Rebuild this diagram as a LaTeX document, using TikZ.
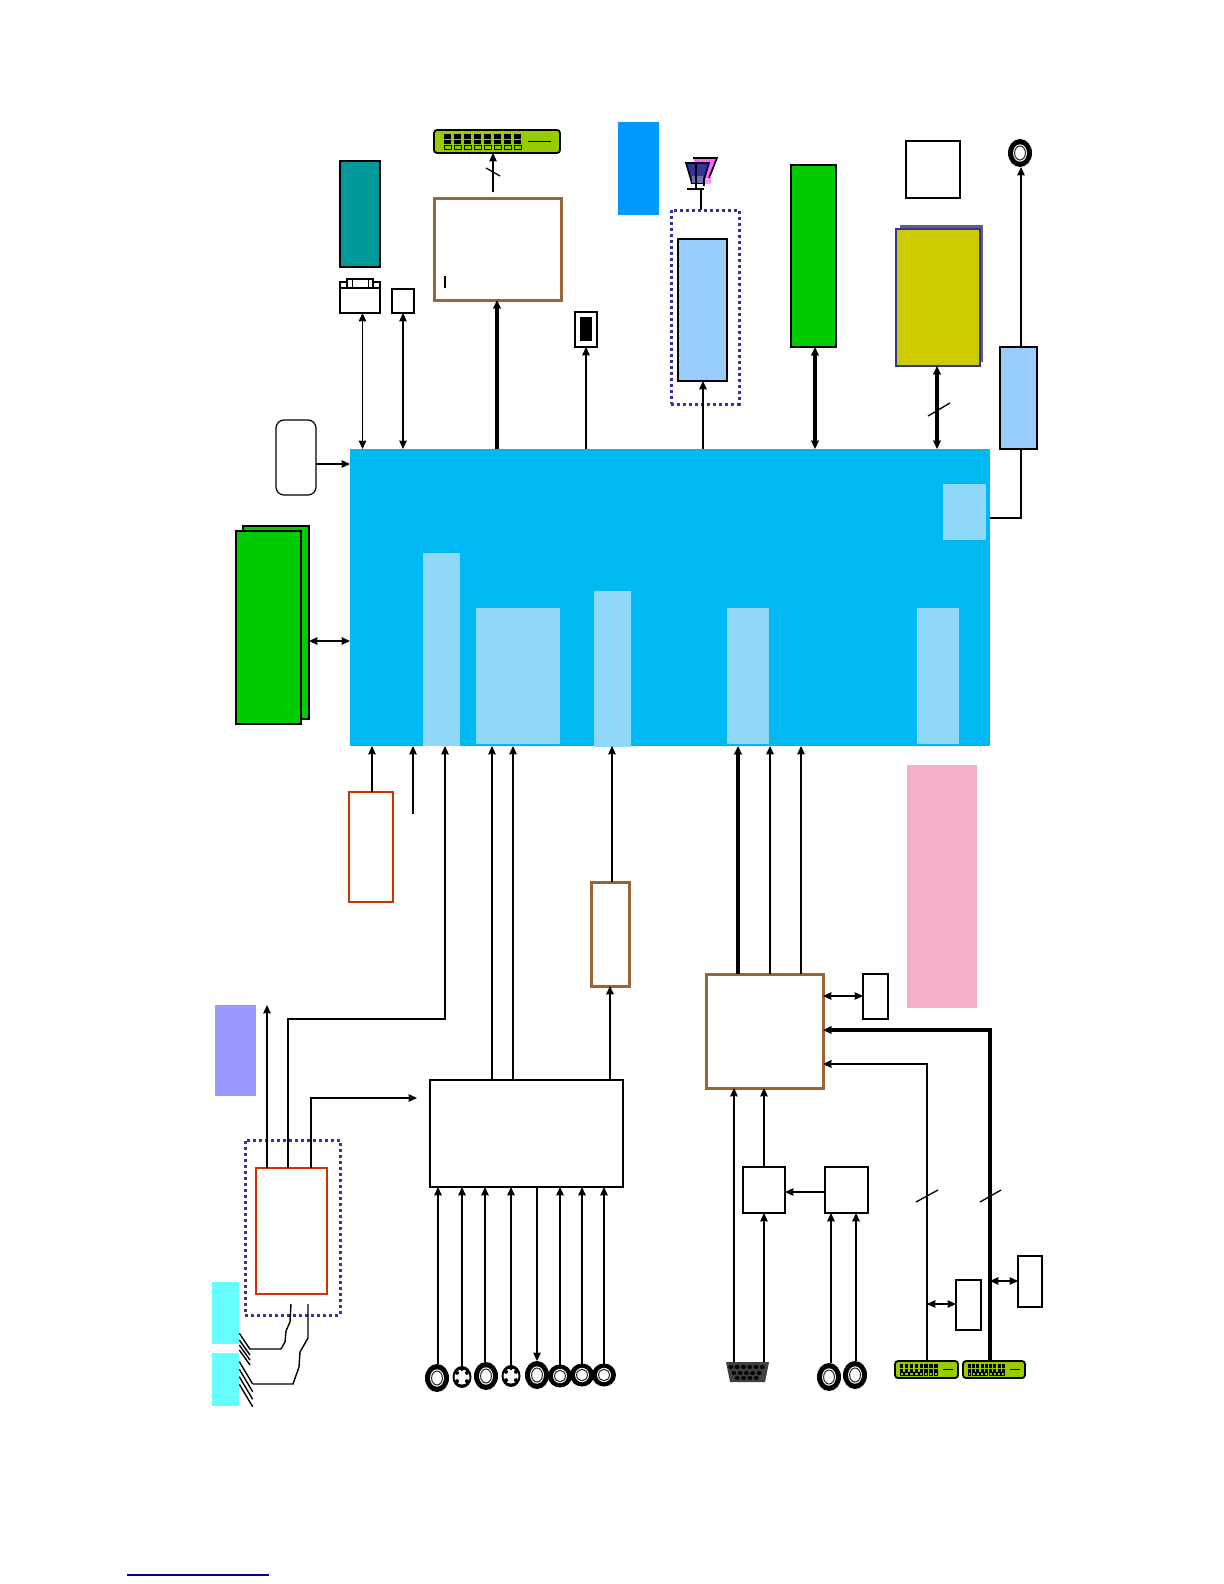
\documentclass[tikz,border=0pt]{standalone}
\usetikzlibrary{arrows.meta,shapes.geometric,calc}
\definecolor{mainblue}{HTML}{00B9F2}
\definecolor{lightblue}{HTML}{8FD8F8}
\definecolor{brgreen}{HTML}{00CC00}
\definecolor{teal2}{HTML}{009999}
\definecolor{brownb}{HTML}{996633}
\definecolor{redb}{HTML}{CC3300}
\definecolor{navy2}{HTML}{333399}
\definecolor{pale}{HTML}{99CCFF}
\definecolor{skyb}{HTML}{0099FF}
\definecolor{olive2}{HTML}{CCCC00}
\definecolor{lime2}{HTML}{99CC00}
\definecolor{pink2}{HTML}{F7AECB}
\definecolor{lilac}{HTML}{9999FF}
\definecolor{cyan2}{HTML}{66FFFF}
\definecolor{magenta2}{HTML}{FF66FF}
\definecolor{linkblue}{HTML}{000080}
\newcommand{\bx}[6][]{%
  \pgfmathsetmacro{\bxw}{(#5-#3)*0.5}\pgfmathsetmacro{\bxh}{(#6-#4)*0.5}%
  \pgfmathsetmacro{\bxcx}{(#3+#5)/2}\pgfmathsetmacro{\bxcy}{(#4+#6)/2}%
  \node[shape=rectangle,inner sep=0pt,outer sep=0pt,minimum width=\bxw pt,minimum height=\bxh pt,#1] (#2) at (\bxcx,\bxcy) {};}
\newcommand{\rnd}[5]{%
  \pgfmathsetmacro{\ew}{#4}\pgfmathsetmacro{\eh}{#5}%
  \node[shape=ellipse,fill=black,inner sep=0pt,outer sep=0pt,minimum width=\ew pt,minimum height=\eh pt] (#1) at (#2,#3) {};
  \fill[white] (#2,#3) ellipse [x radius=#4*0.58,y radius=#5*0.62];
  \draw[line width=.5pt,black!85] (#2,#3) ellipse [x radius=#4*0.45,y radius=#5*0.50];}
\newcommand{\svid}[3]{%
  \node[shape=ellipse,fill=black,inner sep=0pt,outer sep=0pt,minimum width=9.5pt,minimum height=11pt] (#1) at (#2,#3) {};
  \fill[white] (#2,#3) circle [radius=7.5];
  \foreach \a in {40,140,220,320}{\fill[black] ($(#2,#3)+(\a:6.5)$) circle [radius=2];}
  \fill[black] (#2,#3-7.5) circle [radius=1.8];}
\newcommand{\dvi}[9]{% name x1 y1 x2 y2, cols, pinstart, pinend, barend
  \bx[conbox]{#1}{#2}{#3}{#4}{#5}
  \pgfmathsetmacro{\rowa}{#3+(#5-#3)*.18}\pgfmathsetmacro{\rowb}{#3+(#5-#3)*.62}
  \pgfmathsetmacro{\rowc}{#3+(#5-#3)*.68}\pgfmathsetmacro{\rowd}{#3+(#5-#3)*.86}
  \pgfmathsetmacro{\stepx}{(#8-#7)/#6}
  \foreach \i in {1,...,#6}{
    \pgfmathsetmacro{\xa}{#7+(\i-1)*\stepx}\pgfmathsetmacro{\xb}{\xa+\stepx*.7}
    \fill[black] (\xa,\rowa) rectangle (\xb,\rowb);
    \pgfmathsetmacro{\ym}{(\rowa+\rowb)/2}
    \draw[lime2,line width=.3pt] (\xa,\ym) -- (\xb,\ym);
    \draw[black,line width=.5pt] (\xa,\rowc) rectangle (\xb,\rowd);}
  \pgfmathsetmacro{\ymid}{(#3+#5)/2}
  \draw[black,line width=.8pt] (#8+4,\ymid) -- (#9,\ymid);}
\tikzset{
  x=0.5pt,y=-0.5pt,
  headA/.tip={Stealth[length=4.2pt,width=3.8pt,inset=0.2pt]},
  thinbox/.style={draw=black,line width=.6pt,fill=white},
  conbox/.style={draw=black,line width=.9pt,fill=lime2,rounded corners=1.5pt},
  brownbox/.style={draw=brownb,line width=1.5pt,fill=white},
  redbox/.style={draw=redb,line width=.65pt,fill=white},
  dotbox/.style={draw=navy2,line width=1.5pt,dash pattern=on 1.5pt off 1.5pt},
  blk/.style={draw=black,line width=.55pt},
  ar/.style={draw=black,line width=.55pt,-{headA}},
  arr/.style={draw=black,line width=.55pt,{headA}-{headA}},
  tk/.style={draw=black,line width=1.9pt,-{headA}},
  tkm/.style={draw=black,line width=1.2pt,-{headA}},
  tkk/.style={draw=black,line width=1.7pt,{headA}-{headA}},
  slash/.style={draw=black,line width=.65pt},
}
\begin{document}
\begin{tikzpicture}
\useasboundingbox (0,0) rectangle (1224,1584);
% main block
\bx[fill=mainblue]{main}{350}{449}{990}{746}
\bx[fill=lightblue]{la}{943}{484}{986}{540}
\bx[fill=lightblue]{lb}{423}{553}{460}{746}
\bx[fill=lightblue]{lc}{476}{608}{560}{744}
\bx[fill=lightblue]{ld}{594}{591}{631}{747}
\bx[fill=lightblue]{le}{727}{608}{769}{744}
\bx[fill=lightblue]{lf}{917}{608}{959}{744}
% left green stack
\bx[fill=brgreen,draw=black,line width=.6pt]{gback}{243}{526}{309}{719}
\bx[fill=brgreen,draw=black,line width=.6pt]{gfront}{236}{531}{301}{724}
\bx[thinbox,rounded corners=4pt]{rbox}{276}{420}{316}{495}
% top row
\bx[fill=teal2,draw=black,line width=.8pt]{teal}{340}{161}{380}{267}
\bx[draw=black,line width=.9pt,fill=white]{vgatabl}{340}{282}{347}{290}
\bx[draw=black,line width=.9pt,fill=white]{vgatabr}{373}{282}{380}{290}
\bx[draw=black,line width=.8pt,fill=white]{vgatop}{347}{279}{373}{290}
\bx[draw=black,line width=.5pt,fill=white]{vgatopi}{352}{279}{368}{290}
\bx[draw=black,line width=.9pt,fill=white]{vga}{340}{288}{380}{313}
\bx[thinbox]{sbox}{392}{289}{414}{313}
\bx[brownbox]{ba}{434}{198}{561}{300}
\draw[black,line width=.9pt] (445,276) -- (445,288);
\dvi{tcon}{434}{130}{560}{153}{8}{444}{524}{551}
\bx[draw=black,line width=.8pt,fill=white]{sw}{575}{312}{597}{347}
\bx[fill=black]{swi}{580}{317}{592}{341}
\bx[fill=skyb]{sky}{618}{122}{659}{215}
% antenna
\fill[magenta2] (693,158) -- (717,158) -- (709,178) -- (701,178) -- cycle;
\draw[black,line width=.8pt] (693,158) -- (717,158) -- (709,178);
\fill[magenta2!70] (690,178) rectangle (711,184);
\filldraw[fill=navy2,draw=black,line width=.8pt] (686,163) -- (709,163) -- (703,183) -- (692,183) -- cycle;
\fill[navy2!70] (692,176) rectangle (703,183);
\draw[black,line width=.6pt] (696,163) -- (696,189);
\draw[black,line width=.6pt] (704,178) -- (704,186);
\coordinate (antbar) at (701,189);
\draw[black,line width=.6pt] (687,189) -- (704,189);
% dotted box + blue
\bx[dotbox]{dota}{671}{210}{739}{404}
\bx[fill=pale,draw=black,line width=.8pt]{bluea}{678}{239}{727}{381}
\bx[fill=brgreen,draw=black,line width=.6pt]{greenb}{791}{165}{836}{347}
\bx[thinbox]{whsq}{906}{141}{960}{198}
\bx[fill=black!50!navy2!70!white]{shad}{900}{225}{983}{362}
\bx[fill=olive2,draw=navy2,line width=.9pt]{yel}{896}{229}{980}{366}
\rnd{rtop}{1020}{153}{12}{14}
\bx[fill=pale,draw=black,line width=.7pt]{blueb}{1000}{347}{1037}{449}
% below main
\bx[redbox]{ra}{349}{792}{393}{902}
\bx[brownbox]{bb}{591}{882}{629}{986}
\bx[brownbox]{bc}{706}{974}{823}{1088}
\bx[thinbox]{s1}{863}{974}{888}{1019}
\bx[fill=pink2]{pink}{907}{765}{977}{1008}
\bx[fill=lilac]{lil}{215}{1005}{256}{1096}
\bx[dotbox]{dotb}{245}{1140}{340}{1315}
\bx[redbox]{rb}{256}{1168}{327}{1294}
\bx[thinbox,line width=.8pt]{wa}{430}{1080}{623}{1187}
\bx[thinbox]{b1}{743}{1167}{785}{1213}
\bx[thinbox]{b2}{825}{1167}{868}{1213}
\bx[thinbox]{s2}{956}{1280}{981}{1330}
\bx[thinbox]{s3}{1018}{1256}{1042}{1307}
\bx[fill=cyan2]{cy1}{212}{1282}{239}{1344}
\bx[fill=cyan2]{cy2}{212}{1353}{239}{1406}
% bottom connectors
\rnd{c1}{437}{1378}{12}{14}
\svid{c2}{462}{1377}
\rnd{c3}{486}{1376}{12}{14}
\svid{c4}{511}{1376}
\rnd{c5}{537}{1375}{12}{14}
\rnd{c6}{560}{1376}{12}{11.5}
\rnd{c7}{582}{1375}{12}{11.5}
\rnd{c8}{604}{1375}{12}{11.5}
\rnd{c9}{829}{1377}{12}{14}
\rnd{c10}{855}{1375}{12}{14}
% vga socket
\bx{vsock}{726}{1362}{769}{1382}
\fill[black!75] (726,1362) -- (769,1362) -- (765,1382) -- (730,1382) -- cycle;
\foreach \r/\n/\s in {1367/6/724.5,1373/5/727.5,1378/4/731}{
  \foreach \i in {1,...,\n}{\fill[black] (\s+\i*6.3,\r) ellipse [x radius=2.4,y radius=2];}}
\dvi{d1}{895}{1361}{958}{1378}{8}{900}{939}{953}
\dvi{d2}{963}{1361}{1025}{1378}{9}{968}{1006}{1020}
% connectors top
\draw[arr] (362.5,1 |- main.north) -- (362.5,1 |- vga.south);
\draw[arr] (403,1 |- main.north) -- (403,1 |- sbox.south);
\draw[tk,line width=2.2pt] (497,1 |- main.north) -- (497,1 |- ba.south);
\draw[ar] (586,1 |- main.north) -- (586,1 |- sw.south);
\draw[ar] (703,1 |- main.north) -- (703,1 |- bluea.south);
\draw[tkk] (815,1 |- main.north) -- (815,1 |- greenb.south);
\draw[tkk] (937,1 |- main.north) -- (937,1 |- yel.south);
\draw[slash] (928,416) -- (950,403);
\coordinate (tconfoot) at (493,192);
\draw[ar] (tconfoot) -- (493,1 |- tcon.south);
\draw[slash] (486,168) -- (500,176);
\draw[blk] (antbar) -- (701,1 |- dota.north);
\draw[ar] (1021,1 |- blueb.north) -- (1021,1 |- rtop.south);
\draw[blk] (main.east |- 1,518) -- (1021,518) -- (1021,1 |- blueb.south);
\draw[ar] (rbox.east |- 1,464) -- (main.west |- 1,464);
\draw[arr] (gback.east |- 1,641) -- (main.west |- 1,641);
% connectors below
\draw[ar] (372,1 |- ra.north) -- (372,1 |- main.south);
\coordinate (free1) at (413,814);
\draw[ar] (free1) -- (413,1 |- main.south);
\draw[ar] (288,1 |- rb.north) -- (288,1019) -- (445,1019) -- (445,1 |- main.south);
\draw[ar] (267,1 |- rb.north) -- (267,1 |- lil.north);
\coordinate (feed) at (417,1098);
\draw[ar] (311,1 |- rb.north) -- (311,1098) -- (feed);
\draw[ar] (492,1 |- wa.north) -- (492,1 |- main.south);
\draw[ar] (513,1 |- wa.north) -- (513,1 |- main.south);
\draw[ar] (612,1 |- bb.north) -- (612,1 |- main.south);
\draw[ar] (610,1 |- wa.north) -- (610,1 |- bb.south);
\draw[tk] (738,1 |- bc.north) -- (738,1 |- main.south);
\draw[ar] (770,1 |- bc.north) -- (770,1 |- main.south);
\draw[ar] (801,1 |- bc.north) -- (801,1 |- main.south);
\draw[arr] (bc.east |- 1,996) -- (s1.west |- 1,996);
\draw[tk] (990,1 |- d2.north) -- (990,1030) -- (bc.east |- 1,1030);
\draw[tkm] (927,1 |- d1.north) -- (927,1064) -- (bc.east |- 1,1064);
\draw[slash] (916,1202) -- (938,1190);
\draw[slash] (980,1202) -- (1001,1190);
\draw[arr] (927,1304) -- (s2.west |- 1,1304);
\draw[arr] (990,1281) -- (s3.west |- 1,1281);
\draw[ar] (734,1 |- vsock.north) -- (734,1 |- bc.south);
\draw[ar] (764,1 |- vsock.north) -- (764,1 |- b1.south);
\draw[ar] (764,1 |- b1.north) -- (764,1 |- bc.south);
\draw[ar] (b2.west |- 1,1192) -- (b1.east |- 1,1192);
\draw[ar] (831,1 |- c9.north) -- (831,1 |- b2.south);
\draw[ar] (856,1 |- c10.north) -- (856,1 |- b2.south);
\draw[ar] (438,1 |- c1.north) -- (438,1 |- wa.south);
\draw[ar] (462,1 |- c2.north) -- (462,1 |- wa.south);
\draw[ar] (485,1 |- c3.north) -- (485,1 |- wa.south);
\draw[ar] (511,1 |- c4.north) -- (511,1 |- wa.south);
\draw[ar] (537,1 |- wa.south) -- (537,1 |- c5.north);
\draw[ar] (560,1 |- c6.north) -- (560,1 |- wa.south);
\draw[ar] (582,1 |- c7.north) -- (582,1 |- wa.south);
\draw[ar] (604,1 |- c8.north) -- (604,1 |- wa.south);
% hatch + wires
\foreach \a/\b/\c/\d in {118/220/150/268,118/240/150/285,118/255/150/300,118/270/150/315,
  118/305/158/372,118/328/158/395,118/350/158/418,118/373/158/440}{
  \draw[black,line width=.7pt] (200+\a/3,1260+\b/3) -- (200+\c/3,1260+\d/3);}
\draw[blk,line width=.7pt] (291,1304) -- (290,1322) -- (286,1331) -- (285,1342) -- (281,1349) -- (250,1349);
\draw[blk,line width=.7pt] (308,1304) -- (308,1338) -- (300,1352) -- (299,1367) -- (293,1384) -- (253,1384);
% footer rule
\draw[linkblue,line width=.6pt] (127,1575) -- (269,1575);
\end{tikzpicture}
\end{document}
